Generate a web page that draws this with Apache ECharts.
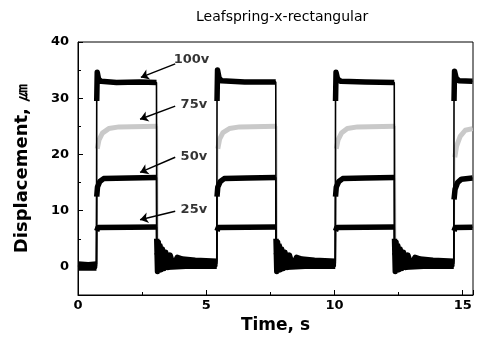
<!DOCTYPE html>
<html>
<head>
<meta charset="utf-8">
<script src="https://cdn.jsdelivr.net/npm/echarts@6/dist/echarts.min.js"></script>
<style>
  html, body { margin: 0; padding: 0; background: #fff; }
  #chart { width: 479px; height: 342px; }
</style>
</head>
<body>
<div id="chart"></div>
<script>
// traces, one list of [time, displacement] per segment
// (a new segment starts at every rising / falling edge)
// the low phases of 100v follow the ringing envelope right after each fall
const trace100 = [
  [[0, 0.5], [0.4, 0.4], [0.72, 0.5]],
  [[0.73, 29.5], [0.75, 34.6], [0.8, 33.4], [0.9, 33.0], [1.5, 32.8], [2.4, 32.9], [3.06, 32.8]],
  [[3.07, 5.0], [3.10, -0.8], [3.13, 4.4], [3.16, -0.6], [3.20, 3.8], [3.24, -0.5], [3.29, 3.2],
   [3.35, -0.3], [3.42, 2.6], [3.50, -0.1], [3.59, 2.1], [3.72, 0.2], [3.87, 1.7], [4.07, 1.4],
   [4.57, 1.2], [5.41, 1.0]],
  [[5.42, 29.5], [5.44, 35.0], [5.5, 33.6], [5.6, 33.1], [6.5, 32.9], [7.71, 32.9]],
  [[7.72, 5.0], [7.75, -0.8], [7.78, 4.4], [7.81, -0.6], [7.85, 3.8], [7.89, -0.5], [7.94, 3.2],
   [8.00, -0.3], [8.07, 2.6], [8.15, -0.1], [8.24, 2.1], [8.37, 0.2], [8.52, 1.7], [8.72, 1.4],
   [9.22, 1.2], [10.03, 1.0]],
  [[10.04, 29.5], [10.06, 34.6], [10.12, 33.4], [10.25, 33.0], [11.2, 32.9], [12.33, 32.8]],
  [[12.34, 5.0], [12.37, -0.8], [12.40, 4.4], [12.43, -0.6], [12.47, 3.8], [12.51, -0.5], [12.56, 3.2],
   [12.62, -0.3], [12.69, 2.6], [12.77, -0.1], [12.86, 2.1], [12.99, 0.2], [13.14, 1.7], [13.34, 1.4],
   [13.84, 1.2], [14.65, 1.0]],
  [[14.66, 29.5], [14.68, 34.8], [14.74, 33.6], [14.85, 33.1], [15.38, 33.0]]
];
const trace75 = [
  [[0, 0.3], [0.73, 0.3]],
  [[0.75, 21.0], [0.82, 22.6], [0.95, 23.8], [1.2, 24.6], [1.6, 24.9], [3.1, 25.0]],
  [[3.12, 1.6], [3.3, 1.1], [3.8, 0.8], [5.43, 0.6]],
  [[5.45, 21.0], [5.52, 22.7], [5.65, 23.9], [5.9, 24.6], [6.3, 24.9], [7.75, 25.0]],
  [[7.77, 1.6], [7.95, 1.1], [8.45, 0.8], [10.05, 0.6]],
  [[10.07, 21.0], [10.14, 22.6], [10.27, 23.8], [10.5, 24.6], [10.9, 24.9], [12.37, 25.0]],
  [[12.39, 1.6], [12.57, 1.1], [13.05, 0.8], [14.67, 0.6]],
  [[14.69, 19.5], [14.76, 21.5], [14.9, 23.2], [15.1, 24.3], [15.38, 24.6]]
];
const trace50 = [
  [[0, 0.1], [0.72, 0.1]],
  [[0.73, 12.5], [0.76, 14.2], [0.85, 15.2], [1.0, 15.7], [2.0, 15.8], [3.06, 15.9]],
  [[3.07, 2.6], [3.15, 1.8], [3.35, 1.2], [3.8, 0.8], [5.41, 0.6]],
  [[5.42, 12.5], [5.45, 14.2], [5.55, 15.2], [5.7, 15.7], [6.6, 15.8], [7.71, 15.9]],
  [[7.72, 2.6], [7.8, 1.8], [8.0, 1.2], [8.45, 0.8], [10.03, 0.6]],
  [[10.04, 12.5], [10.07, 14.2], [10.17, 15.2], [10.32, 15.7], [11.2, 15.8], [12.33, 15.9]],
  [[12.34, 2.6], [12.42, 1.8], [12.62, 1.2], [13.07, 0.8], [14.65, 0.6]],
  [[14.66, 12.0], [14.7, 13.8], [14.8, 15.0], [14.95, 15.6], [15.38, 15.8]]
];
const trace25 = [
  [[0, -0.2], [0.72, -0.2]],
  [[0.73, 6.4], [0.78, 7.0], [2.0, 7.05], [3.06, 7.1]],
  [[3.07, -0.5], [3.3, -0.1], [4.2, 0.1], [5.41, 0.1]],
  [[5.42, 6.4], [5.47, 7.0], [6.6, 7.05], [7.71, 7.1]],
  [[7.72, -0.5], [7.95, -0.1], [8.85, 0.1], [10.03, 0.1]],
  [[10.04, 6.4], [10.09, 7.0], [11.2, 7.05], [12.33, 7.1]],
  [[12.34, -0.5], [12.57, -0.1], [13.47, 0.1], [14.65, 0.1]],
  [[14.66, 6.4], [14.71, 7.0], [15.38, 7.05]]
];

// annotations: label text, label position, arrow start, arrow tip
const noteText = ['100v', '75v', '50v', '25v'];
const notePos = [[3.71, 36.8], [3.98, 28.9], [3.98, 19.7], [3.98, 10.2]];
const arrowFrom = [[3.79, 36.1], [3.79, 28.6], [3.79, 19.5], [3.79, 9.9]];
const arrowTo = [[2.45, 33.7], [2.42, 26.25], [2.42, 16.8], [2.42, 8.4]];

const yTicks = [0, 10, 20, 30, 40];
const yMinorTicks = [-5, 5, 15, 25, 35];

const font = 'DejaVu Sans';

// whole trace (edges included) drawn thin
function thinData(segs) {
  let out = [];
  segs.forEach(function (s) { out = out.concat(s); });
  return out;
}
// only the flat parts drawn thick (noise band), broken at every edge
function thickData(segs) {
  let out = [];
  segs.forEach(function (s, i) {
    if (i > 0) out.push([s[0][0] - 0.005, '-']);
    out = out.concat(s);
  });
  return out;
}

const traces = [
  { name: '75v', segs: trace75, color: '#c9c9c9', thin: 1.2, thick: 5 },
  { name: '25v', segs: trace25, color: '#000', thin: 1.6, thick: 5.5 },
  { name: '50v', segs: trace50, color: '#000', thin: 1.6, thick: 5.5 },
  { name: '100v', segs: trace100, color: '#000', thin: 1.6, thick: 5.5 }
];

let series = [];
traces.forEach(function (tr) {
  series.push({
    name: tr.name, type: 'line', symbol: 'none', silent: true,
    data: thinData(tr.segs),
    lineStyle: { color: tr.color, width: tr.thin }
  });
  series.push({
    name: tr.name + '-band', type: 'line', symbol: 'none', silent: true,
    connectNulls: false,
    data: thickData(tr.segs),
    lineStyle: { color: tr.color, width: tr.thick, join: 'round' }
  });
});

// arrows
series.push({
  type: 'line', data: [], silent: true,
  markLine: {
    silent: true,
    symbol: ['none', 'arrow'],
    symbolSize: 8,
    label: { show: false },
    lineStyle: { color: '#000', width: 1.5, type: 'solid' },
    data: arrowFrom.map(function (p, i) {
      return [{ coord: p }, { coord: arrowTo[i] }];
    })
  }
});
// labels
series.push({
  type: 'scatter', silent: true, symbolSize: 1,
  itemStyle: { color: 'rgba(0,0,0,0)' },
  data: notePos.map(function (p, i) { return [p[0], p[1], noteText[i]]; }),
  label: {
    show: true, position: 'right', distance: 0,
    formatter: function (p) { return p.data[2]; },
    color: '#000', fontFamily: font, fontWeight: 'bold', fontSize: 13
  }
});

let myChart = echarts.init(document.getElementById('chart'));
myChart.setOption({
  animation: false,
  title: {
    text: 'Leafspring-x-rectangular',
    left: 191, top: 5,
    textStyle: { fontFamily: font, fontWeight: 'normal', fontSize: 14, color: '#000' }
  },
  grid: {
    left: 78, right: 6, top: 42, bottom: 47,
    show: true, borderColor: '#000', borderWidth: 1
  },
  xAxis: {
    type: 'value', min: 0, max: 15.4, interval: 5,
    name: 'Time, s', nameLocation: 'middle', nameGap: 20,
    nameTextStyle: { fontFamily: font, fontWeight: 'bold', fontSize: 17, color: '#000' },
    axisLine: { onZero: false, lineStyle: { color: '#000', width: 1 } },
    axisTick: { inside: true, length: 5, lineStyle: { color: '#000' } },
    minorTick: { show: true, splitNumber: 2, length: 3, lineStyle: { color: '#000' } },
    axisLabel: { margin: 4, fontFamily: font, fontWeight: 'bold', fontSize: 13, color: '#000',
      showMaxLabel: false },
    splitLine: { show: false }
  },
  yAxis: [
    {
      type: 'value', min: -5, max: 40,
      name: 'Displacement, ㎛', nameLocation: 'middle', nameGap: 47, nameRotate: 90,
      nameTextStyle: { fontFamily: font, fontWeight: 'bold', fontSize: 18, color: '#000' },
      axisLine: { onZero: false, lineStyle: { color: '#000', width: 1 } },
      axisTick: { inside: true, length: 5, customValues: yTicks, lineStyle: { color: '#000' } },
      axisLabel: { margin: 9, customValues: yTicks, fontFamily: font, fontWeight: 'bold',
        fontSize: 13, color: '#000' },
      splitLine: { show: false }
    },
    {
      type: 'value', min: -5, max: 40, position: 'left',
      axisLine: { show: false },
      axisTick: { inside: true, length: 3, customValues: yMinorTicks, lineStyle: { color: '#000' } },
      axisLabel: { show: false },
      splitLine: { show: false }
    }
  ],
  series: series
});
</script>
</body>
</html>
